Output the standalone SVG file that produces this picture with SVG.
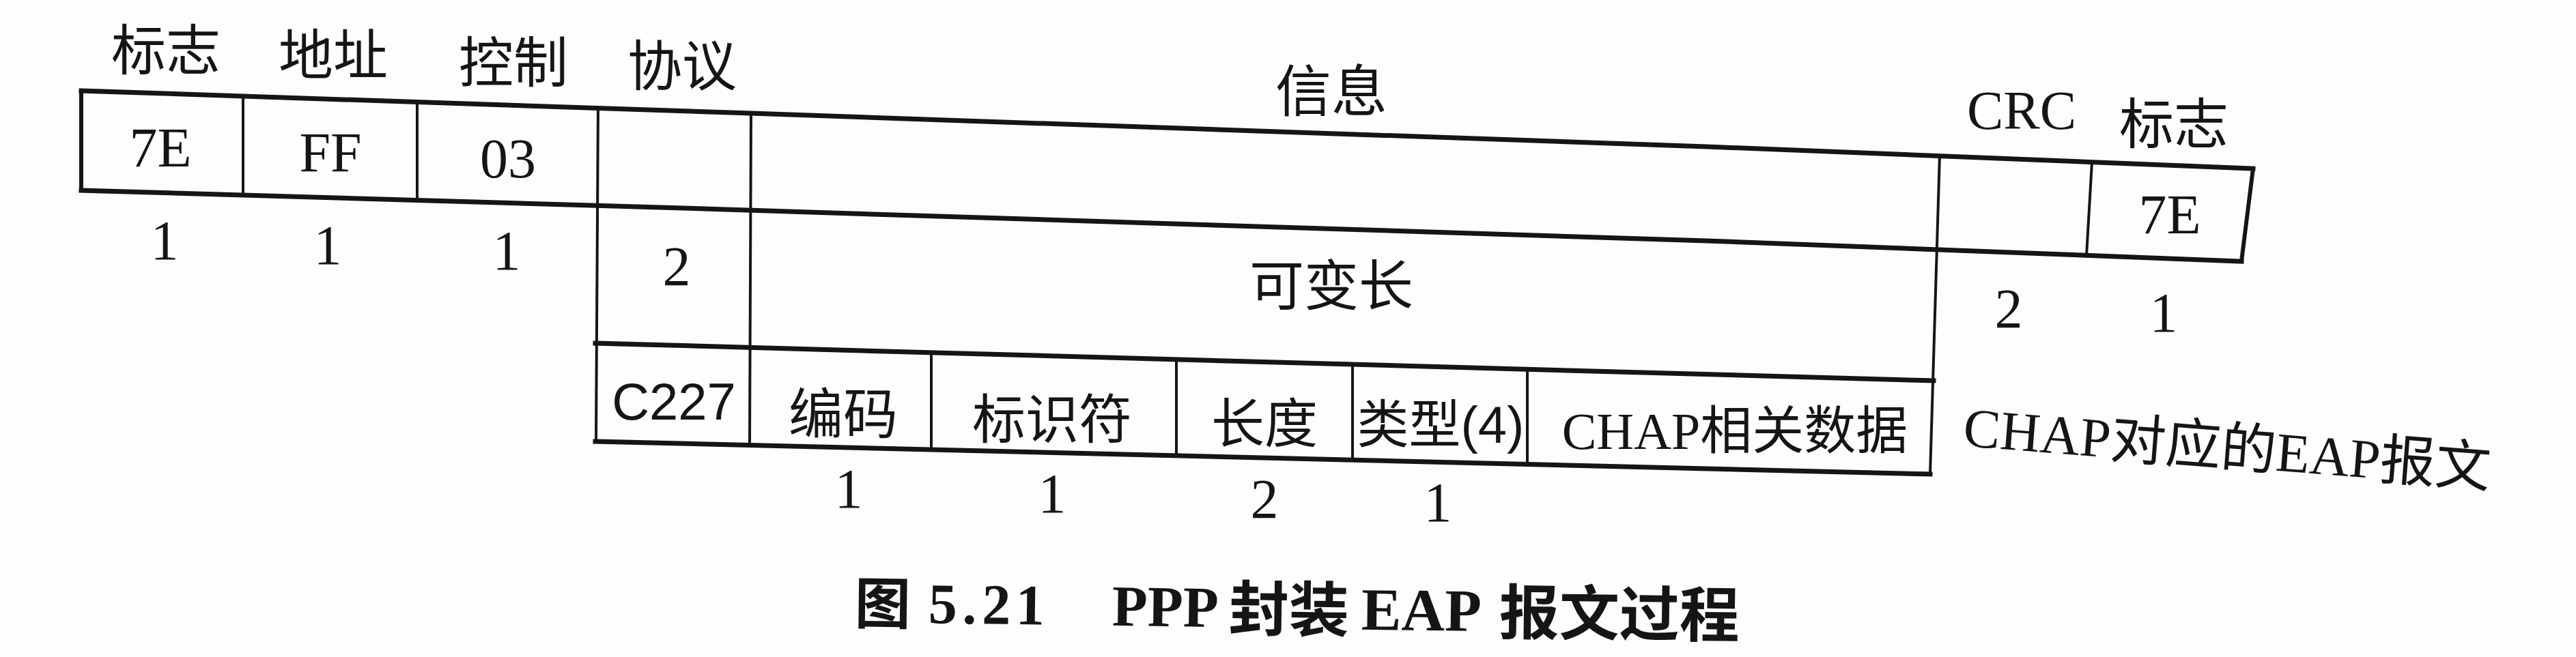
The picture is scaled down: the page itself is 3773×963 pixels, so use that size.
<svg xmlns="http://www.w3.org/2000/svg" width="3773" height="963" viewBox="0 0 3773 963">
<style>
.h{stroke:#151515;stroke-width:7;fill:none;stroke-linejoin:round;stroke-linecap:square}
.v{stroke:#151515;stroke-width:4;fill:none}
.vb{stroke:#151515;stroke-width:6;fill:none}
text{fill:#151515;text-anchor:middle;dominant-baseline:central}
.cjk{font-family:"Noto Sans CJK SC","Liberation Sans",sans-serif;font-size:80px}
.ser{font-family:"Liberation Serif","Noto Sans CJK SC",serif;font-size:82px}
.sans{font-family:"Liberation Sans","Noto Sans CJK SC",sans-serif;font-size:76px}
.cap{font-family:"Liberation Serif","Noto Sans CJK SC",serif;font-weight:bold;text-anchor:start;dominant-baseline:auto}
</style>
<rect width="3773" height="963" fill="#fdfdfd"/>
<g id="connectors">
  <polyline class="h" points="119,133 1100,166 2500,215 3300,247"/>
  <polyline class="h" points="119,279 1000,305 2500,353 3283,383"/>
  <line class="h" x1="872" y1="503" x2="2832" y2="558"/>
  <line class="h" x1="872" y1="647" x2="2827" y2="695"/>
  <line class="vb" x1="119" y1="133" x2="119" y2="279"/>
  <line class="v" x1="356" y1="141" x2="356" y2="286"/>
  <line class="v" x1="611" y1="150" x2="611" y2="294"/>
  <line class="v" x1="876" y1="158" x2="873" y2="647"/>
  <line class="v" x1="1100" y1="166" x2="1098" y2="652"/>
  <line class="v" x1="2841" y1="227" x2="2827" y2="695"/>
  <line class="v" x1="3064" y1="238" x2="3056" y2="375"/>
  <line class="vb" x1="3300" y1="247" x2="3283" y2="383"/>
  <line class="v" x1="1364" y1="517" x2="1364" y2="659"/>
  <line class="v" x1="1723" y1="527" x2="1723" y2="668"/>
  <line class="v" x1="1981" y1="534" x2="1981" y2="674"/>
  <line class="v" x1="2237" y1="541" x2="2237" y2="681"/>
</g>
<g id="flag1">
  <text class="cjk" x="243" y="67">标志</text>
  <text class="ser" x="235" y="216">7E</text>
  <text class="ser" x="241" y="352">1</text>
</g>
<g id="address">
  <text class="cjk" x="488" y="74">地址</text>
  <text class="ser" x="484" y="223">FF</text>
  <text class="ser" x="480" y="359">1</text>
</g>
<g id="control">
  <text class="cjk" x="752" y="85">控制</text>
  <text class="ser" x="744" y="232">03</text>
  <text class="ser" x="742" y="367">1</text>
</g>
<g id="protocol">
  <text class="cjk" x="999" y="90">协议</text>
  <text class="ser" x="991" y="390">2</text>
  <text class="sans" x="987" y="588">C227</text>
</g>
<g id="info">
  <text class="cjk" x="1950" y="127" style="font-size:82px">信息</text>
  <text class="cjk" x="1950" y="412">可变长</text>
</g>
<g id="crc">
  <text class="ser" x="2961" y="162" style="font-size:80px">CRC</text>
  <text class="ser" x="2942" y="452">2</text>
</g>
<g id="flag2">
  <text class="cjk" x="3184" y="175">标志</text>
  <text class="ser" x="3178" y="314">7E</text>
  <text class="ser" x="3169" y="458">1</text>
</g>
<g id="code">
  <text class="cjk" x="1235" y="600">编码</text>
  <text class="ser" x="1243" y="716">1</text>
</g>
<g id="identifier">
  <text class="cjk" x="1541" y="609" style="font-size:78px">标识符</text>
  <text class="ser" x="1541" y="723">1</text>
</g>
<g id="length">
  <text class="cjk" x="1852" y="615" style="font-size:78px">长度</text>
  <text class="ser" x="1852" y="731">2</text>
</g>
<g id="type">
  <text class="sans" x="2110" y="622">类型(4)</text>
  <text class="ser" x="2106" y="736">1</text>
</g>
<g id="chapdata">
  <text class="ser" x="2541" y="632" style="font-size:76px">CHAP相关数据</text>
</g>
<g id="eaplabel">
  <text class="ser" x="3262" y="657" style="font-size:81px" transform="rotate(4.5 3262 657)">CHAP对应的EAP报文</text>
</g>
<g id="caption" transform="rotate(0.75 1258 883)">
  <text class="cap" x="1252" y="914" style="font-size:82px">图</text>
  <text class="cap" x="1360" y="912" style="font-size:84px" textLength="170" lengthAdjust="spacing">5.21</text>
  <text class="cap" x="1629" y="912" style="font-size:85px">PPP</text>
  <text class="cap" x="1800" y="917" style="font-size:88px">封装</text>
  <text class="cap" x="1994" y="913" style="font-size:88px">EAP</text>
  <text class="cap" x="2196" y="917" style="font-size:88px">报文过程</text>
</g>
</svg>
